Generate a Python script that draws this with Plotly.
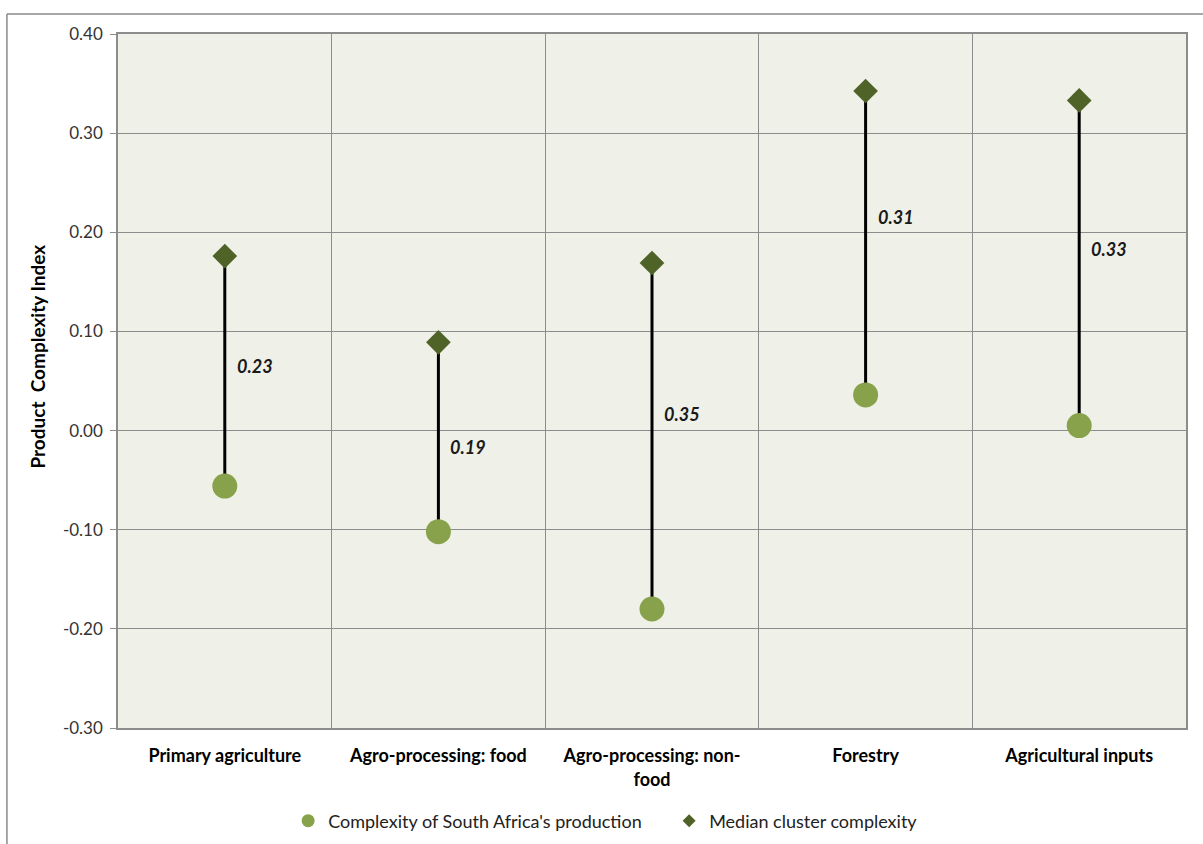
import plotly.graph_objects as go

# Cluster categories along the x axis
categories = [
    "Primary agriculture",
    "Agro-processing: food",
    "Agro-processing: non-<br>food",
    "Forestry",
    "Agricultural inputs",
]

# Product Complexity Index values per cluster
sa_production = [-0.056, -0.102, -0.180, 0.036, 0.005]
median_cluster = [0.176, 0.089, 0.169, 0.3425, 0.333]

# Vertical anchor of each gap label (data units)
gap_label_y = [0.065, -0.017, 0.017, 0.215, 0.183]

y_ticks = [0.40, 0.30, 0.20, 0.10, 0.00, -0.10, -0.20, -0.30]

FONT = "Lato, 'Open Sans', Arial, sans-serif"
CIRCLE_GREEN = "#87A24B"
DIAMOND_GREEN = "#4F6228"

fig = go.Figure()

# Connector lines between production complexity and cluster median
line_x, line_y = [], []
for cat, lo, hi in zip(categories, sa_production, median_cluster):
    line_x += [cat, cat, None]
    line_y += [lo, hi, None]
fig.add_trace(go.Scatter(
    x=line_x, y=line_y, mode="lines",
    line=dict(color="black", width=3),
    showlegend=False, hoverinfo="skip",
))

fig.add_trace(go.Scatter(
    x=categories, y=sa_production, mode="markers",
    marker=dict(symbol="circle", size=25, color=CIRCLE_GREEN),
    name="Complexity of South Africa's production", showlegend=False,
))
fig.add_trace(go.Scatter(
    x=categories, y=median_cluster, mode="markers",
    marker=dict(symbol="diamond", size=19, color=DIAMOND_GREEN),
    name="Median cluster complexity", showlegend=False,
))

# Legend entries with small symbols
fig.add_trace(go.Scatter(
    x=[None], y=[None], mode="markers",
    marker=dict(symbol="circle", size=13, color=CIRCLE_GREEN),
    name="Complexity of South Africa's production",
))
fig.add_trace(go.Scatter(
    x=[None], y=[None], mode="markers",
    marker=dict(symbol="diamond", size=10, color=DIAMOND_GREEN),
    name="Median cluster complexity",
))

# Gap labels next to each connector
for i, (cat, lo, hi, ly) in enumerate(zip(categories, sa_production, median_cluster, gap_label_y)):
    gap = round(hi - lo, 2)
    fig.add_annotation(
        x=i, y=ly, xref="x", yref="y",
        text=f"<b><i>{gap:.2f}</i></b>",
        showarrow=False, xanchor="left", xshift=10,
        font=dict(family=FONT, size=18, color="#1a1a1a"),
    )

# Y axis title
fig.add_annotation(
    x=-0.075, y=0.535, xref="paper", yref="paper",
    xanchor="center", yanchor="middle",
    text="<b>Product  Complexity Index</b>", textangle=-90,
    showarrow=False, font=dict(family=FONT, size=19, color="black"),
)

# Outer chart frame (top and left edges)
fig.add_shape(type="line", xref="paper", yref="paper",
              x0=-0.104, y0=1.0288, x1=1.02, y1=1.0288,
              line=dict(color="#8a8a8a", width=1.5))
fig.add_shape(type="line", xref="paper", yref="paper",
              x0=-0.104, y0=1.0288, x1=-0.104, y1=-0.2,
              line=dict(color="#8a8a8a", width=1.5))

fig.update_layout(
    width=1203, height=844,
    margin=dict(l=118, r=17, t=34, b=116, autoexpand=False),
    paper_bgcolor="white",
    plot_bgcolor="#EFF1E9",
    font=dict(family=FONT, size=17, color="#333333"),
    legend=dict(
        orientation="h", x=0.1593, xanchor="left", y=-0.134, yanchor="middle",
        font=dict(family=FONT, size=18, color="#222222"),
        itemwidth=30, tracegroupgap=0,
        entrywidth=336, entrywidthmode="pixels",
    ),
    showlegend=True,
)

fig.update_xaxes(
    type="category", categoryorder="array", categoryarray=categories,
    range=[-0.5, 4.5],
    tickson="boundaries", ticks="",
    showgrid=True, gridcolor="#8c8c8c", gridwidth=1,
    showline=True, linecolor="#8c8c8c", linewidth=1.5, mirror=True,
    tickfont=dict(family=FONT, size=18, color="black", weight="bold"),
    ticklabelstandoff=11,
    zeroline=False, automargin=False,
)
fig.update_yaxes(
    range=[-0.30, 0.40], tickvals=y_ticks,
    ticktext=[f"{v:.2f}" for v in y_ticks],
    ticks="outside", ticklen=6, tickcolor="#8c8c8c",
    showgrid=True, gridcolor="#8c8c8c", gridwidth=1,
    showline=True, linecolor="#8c8c8c", linewidth=1.5, mirror=True,
    zeroline=False, automargin=False,
    ticklabelstandoff=4,
    tickfont=dict(family=FONT, size=17, color="#333333"),
)

fig.write_html("out.html")
